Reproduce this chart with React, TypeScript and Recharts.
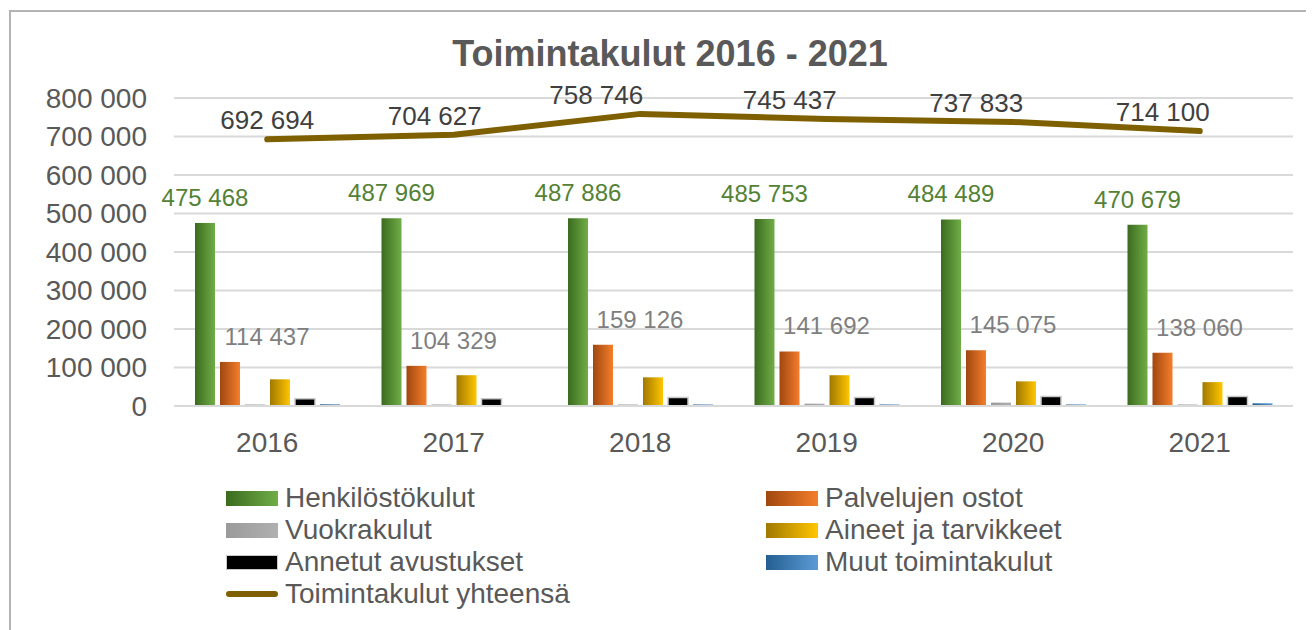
import React from 'react';
import { ComposedChart, Bar, Line, XAxis, YAxis, CartesianGrid, LabelList, Legend } from 'recharts';

const years = ['2016', '2017', '2018', '2019', '2020', '2021'];
const henkilostokulut = [475468, 487969, 487886, 485753, 484489, 470679];
const palvelujenOstot = [114437, 104329, 159126, 141692, 145075, 138060];
const vuokrakulut = [4000, 4000, 4000, 6000, 8800, 4000];
const aineetJaTarvikkeet = [69300, 80000, 74500, 80000, 64000, 62000];
const annetutAvustukset = [19000, 19000, 22000, 22000, 25000, 25000];
const muutToimintakulut = [4500, 2000, 4000, 4000, 4000, 7000];
const toimintakulutYhteensa = [692694, 704627, 758746, 745437, 737833, 714100];
const yTicks = [0, 100000, 200000, 300000, 400000, 500000, 600000, 700000, 800000];

const FONT = '"Liberation Sans", Arial, sans-serif';

const barSeries = [
  { key: 'henk', name: 'Henkilöstökulut', dark: '#3b6b1f', light: '#70ad47', stroke: 'none' },
  { key: 'palv', name: 'Palvelujen ostot', dark: '#a0470f', light: '#f47e2c', stroke: 'none' },
  { key: 'vuok', name: 'Vuokrakulut', dark: '#9a9a9a', light: '#b0b0b0', stroke: 'none' },
  { key: 'aine', name: 'Aineet ja tarvikkeet', dark: '#a07800', light: '#ffc600', stroke: 'none' },
  { key: 'avus', name: 'Annetut avustukset', dark: '#000000', light: '#000000', stroke: '#c8c8c8' },
  { key: 'muut', name: 'Muut toimintakulut', dark: '#255e91', light: '#5b9bd5', stroke: 'none' },
];
const lineSeries = { key: 'total', name: 'Toimintakulut yhteensä', color: '#7f6000' };

const data = years.map((y, i) => ({
  year: y,
  henk: henkilostokulut[i],
  palv: palvelujenOstot[i],
  vuok: vuokrakulut[i],
  aine: aineetJaTarvikkeet[i],
  avus: annetutAvustukset[i],
  muut: muutToimintakulut[i],
  total: toimintakulutYhteensa[i],
}));

const fmt = (n: number) => String(Math.round(n)).replace(/\B(?=(\d{3})+(?!\d))/g, ' ');

const GreenLabel = (props: any) => {
  const { x, y, width, value } = props;
  return (
    <text x={x + width / 2} y={y - 17} textAnchor="middle" fill="#548235" fontSize={24} fontFamily={FONT}>
      {fmt(value)}
    </text>
  );
};

const GrayLabel = (props: any) => {
  const { x, y, width, value } = props;
  return (
    <text x={x + width / 2 + 37} y={y - 17} textAnchor="middle" fill="#7f7f7f" fontSize={24} fontFamily={FONT}>
      {fmt(value)}
    </text>
  );
};

const lineLabelNudge = [0, -19, -44, -37, -37, -37];
const LineLabel = (props: any) => {
  const { x, y, value, index } = props;
  return (
    <text x={x + (lineLabelNudge[index] || 0)} y={y - 10} textAnchor="middle" fill="#404040" fontSize={26} fontFamily={FONT}>
      {fmt(value)}
    </text>
  );
};

const legendLayout = [
  { col: 0, row: 0 },
  { col: 1, row: 0 },
  { col: 0, row: 1 },
  { col: 1, row: 1 },
  { col: 0, row: 2 },
  { col: 1, row: 2 },
];

const LegendContent = () => {
  const colX = [218, 758];
  const rowY = [482, 514, 546, 578];
  const items: any[] = barSeries.map((s, i) => {
    const p = legendLayout[i];
    return (
      <div key={s.key} style={{ position: 'absolute', left: colX[p.col], top: rowY[p.row] - 478, height: 32, display: 'flex', alignItems: 'center', whiteSpace: 'nowrap' }}>
        <div style={{ width: 52, height: 15, background: `linear-gradient(to right, ${s.dark}, ${s.light})`, boxSizing: 'border-box', border: s.stroke !== 'none' ? `1px solid ${s.stroke}` : 'none' }} />
        <span style={{ marginLeft: 7, fontSize: 28, color: '#595959', fontFamily: FONT, lineHeight: '32px' }}>{s.name}</span>
      </div>
    );
  });
  items.push(
    <div key="line" style={{ position: 'absolute', left: colX[0], top: rowY[3] - 478, height: 32, display: 'flex', alignItems: 'center', whiteSpace: 'nowrap' }}>
      <div style={{ width: 52, height: 6, borderRadius: 3, background: lineSeries.color }} />
      <span style={{ marginLeft: 7, fontSize: 28, color: '#595959', fontFamily: FONT, lineHeight: '32px' }}>{lineSeries.name}</span>
    </div>
  );
  return <div style={{ position: 'relative', width: 1306, height: 140 }}>{items}</div>;
};

export default function App() {
  return (
    <div style={{ position: 'relative', width: 1306, height: 622, overflow: 'hidden', background: '#fff' }}>
      <div style={{ position: 'absolute', left: 1, top: 2, width: 2000, height: 2000, border: '2px solid #b4b4b4', boxSizing: 'border-box' }} />
      <div style={{ position: 'absolute', left: 662, top: 28, transform: 'translateX(-50%)', whiteSpace: 'nowrap', fontFamily: FONT, fontWeight: 'bold', fontSize: 36, lineHeight: '36px', color: '#595959' }}>
        Toimintakulut 2016 - 2021
      </div>
      <div style={{ position: 'absolute', left: 0, top: 0 }}>
        <ComposedChart width={1306} height={622} data={data} margin={{ top: 90, right: 21, bottom: 164, left: 0 }} barSize={20} barGap={5}>
          <defs>
            {barSeries.map((s) => (
              <linearGradient key={s.key} id={`g-${s.key}`} x1="0" y1="0" x2="1" y2="0">
                <stop offset="0%" stopColor={s.dark} />
                <stop offset="100%" stopColor={s.light} />
              </linearGradient>
            ))}
          </defs>
          <CartesianGrid vertical={false} stroke="#d9d9d9" strokeWidth={2} />
          <XAxis dataKey="year" height={60} tickLine={false} axisLine={{ stroke: '#d9d9d9', strokeWidth: 2 }} tickMargin={20} tick={{ fill: '#595959', fontSize: 28, fontFamily: FONT }} />
          <YAxis width={166} domain={[0, 800000]} ticks={yTicks} tickFormatter={fmt} axisLine={false} tickLine={false} tickMargin={21} tick={{ fill: '#595959', fontSize: 28, fontFamily: FONT }} />
          {barSeries.map((s) => (
            <Bar key={s.key} dataKey={s.key} name={s.name} fill={`url(#g-${s.key})`} stroke={s.stroke} strokeWidth={s.stroke !== 'none' ? 1.5 : 0} isAnimationActive={false}>
              {s.key === 'henk' && <LabelList dataKey="henk" content={GreenLabel} />}
              {s.key === 'palv' && <LabelList dataKey="palv" content={GrayLabel} />}
            </Bar>
          ))}
          <Line type="linear" dataKey="total" name={lineSeries.name} stroke={lineSeries.color} strokeWidth={6} strokeLinecap="round" dot={false} activeDot={false} isAnimationActive={false}>
            <LabelList dataKey="total" content={LineLabel} />
          </Line>
          <Legend layout="horizontal" verticalAlign="middle" align="center" content={LegendContent} wrapperStyle={{ left: 0, top: 470, width: 1306, height: 140 }} />
        </ComposedChart>
      </div>
    </div>
  );
}
